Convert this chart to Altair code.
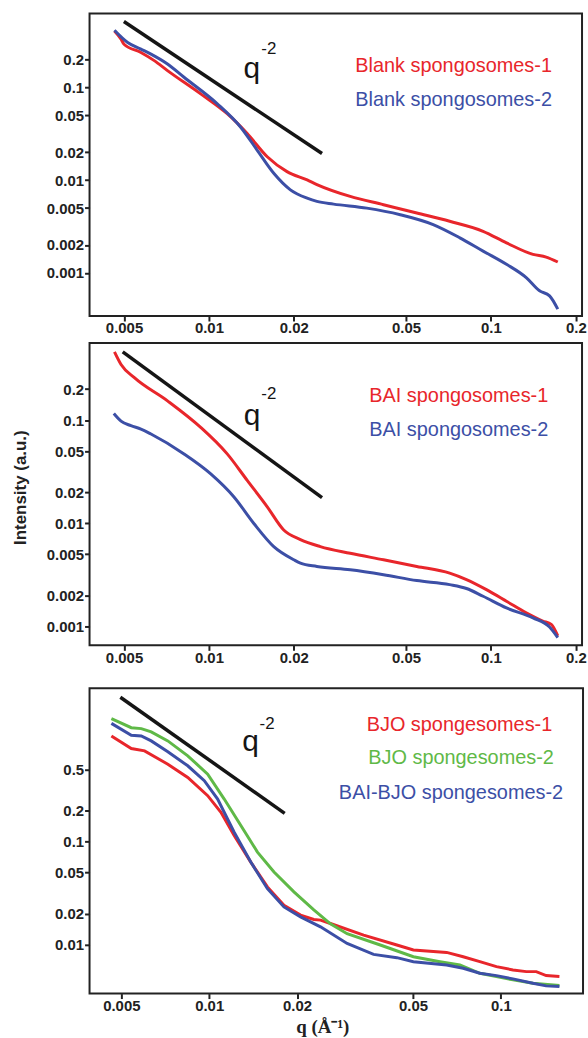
import altair as alt
import pandas as pd

# ---------------- Panel 1 : blank spongosomes ----------------
p1_red_q = [0.004624, 0.00488, 0.005, 0.00574, 0.0064, 0.00713, 0.00935, 0.01161, 0.01367, 0.0161,
            0.01892, 0.0223, 0.02415, 0.0317, 0.0416, 0.0546, 0.0714, 0.0938, 0.1135, 0.141, 0.157, 0.1726]
p1_red_i = [0.4036, 0.3292, 0.290, 0.2366, 0.1932, 0.151, 0.0848, 0.0518, 0.0317, 0.01783,
            0.01233, 0.01004, 0.00895, 0.00667, 0.00543, 0.00442, 0.0036, 0.00281, 0.00211, 0.001585, 0.001483, 0.001312]
p1_blue_q = [0.004624, 0.00515, 0.00574, 0.00623, 0.00713, 0.00816, 0.01071, 0.01294, 0.01482, 0.01698,
             0.01945, 0.0223, 0.02415, 0.02767, 0.0363, 0.0477, 0.0624, 0.0776, 0.0938, 0.1135,
             0.1334, 0.1487, 0.1614, 0.1726]
p1_blue_i = [0.410, 0.303, 0.2572, 0.227, 0.1777, 0.128, 0.0663, 0.0373, 0.02104, 0.01183,
             0.00785, 0.00638, 0.00589, 0.00551, 0.00499, 0.00424, 0.00332, 0.00239, 0.00172, 0.00124,
             0.000891, 0.000642, 0.000567, 0.000408]
p1_ref_q = [0.004994, 0.02518]
p1_ref_i = [0.5093, 0.0193]

# ---------------- Panel 2 : BAI spongosomes ----------------
p2_red_q = [0.004624, 0.004879, 0.00544, 0.00713, 0.00935, 0.01161, 0.01367, 0.0161, 0.01842, 0.02111,
            0.02483, 0.0317, 0.0416, 0.0546, 0.0714, 0.0819, 0.0964, 0.1135, 0.1334, 0.1527, 0.1637, 0.1726]
p2_red_i = [0.4597, 0.3467, 0.2582, 0.1538, 0.0850, 0.0470, 0.0260, 0.01439, 0.00858, 0.00692,
            0.00592, 0.00510, 0.00441, 0.0038, 0.00327, 0.00283, 0.00226, 0.001746, 0.001346, 0.00112, 0.00104, 0.000803]
p2_blue_q = [0.0046, 0.00488, 0.00529, 0.00574, 0.00623, 0.00816, 0.01015, 0.01227, 0.01443, 0.01698,
             0.02, 0.02111, 0.02415, 0.0317, 0.0416, 0.0546, 0.0714, 0.0819, 0.0938, 0.1135,
             0.141, 0.1614, 0.1726]
p2_blue_i = [0.1160, 0.0978, 0.0883, 0.0819, 0.0733, 0.0470, 0.0301, 0.01797, 0.00993, 0.00592,
             0.00441, 0.00409, 0.0038, 0.00353, 0.00316, 0.00277, 0.00253, 0.00232, 0.00195, 0.001504,
             0.001205, 0.00098, 0.000773]
p2_ref_q = [0.004948, 0.02518]
p2_ref_i = [0.4601, 0.01768]

# ---------------- Panel 3 : BJO spongesomes ----------------
p3_red_q = [0.004622, 0.005408, 0.006006, 0.007216, 0.008444, 0.009883, 0.010973, 0.012181, 0.013887, 0.015837,
            0.018042, 0.020572, 0.02284, 0.024076, 0.02604, 0.03384, 0.04399, 0.05012, 0.06516, 0.07425,
            0.08468, 0.09654, 0.11, 0.1222, 0.1322, 0.1429, 0.1587]
p3_red_i = [1.057, 0.797, 0.757, 0.5623, 0.4181, 0.2782, 0.1919, 0.1143, 0.0631, 0.0362,
            0.02407, 0.01928, 0.01748, 0.01725, 0.01599, 0.01235, 0.00989, 0.00885, 0.00839, 0.00762,
            0.00682, 0.0061, 0.00567, 0.00546, 0.00546, 0.004995, 0.00489]
p3_green_q = [0.004622, 0.005408, 0.005852, 0.00633, 0.007216, 0.008444, 0.009883, 0.011262, 0.01284, 0.014639,
              0.01668, 0.019521, 0.02284, 0.02604, 0.029705, 0.03859, 0.05012, 0.06182, 0.07234, 0.08468,
              0.09654, 0.11, 0.1287, 0.1587]
p3_green_i = [1.553, 1.271, 1.244, 1.156, 0.946, 0.678, 0.450, 0.258, 0.1427, 0.0788,
              0.0506, 0.0324, 0.02174, 0.0159, 0.01274, 0.00989, 0.00762, 0.00682, 0.00634, 0.00526,
              0.00489, 0.00454, 0.00421, 0.0040]
p3_blue_q = [0.004622, 0.005408, 0.005852, 0.00633, 0.007216, 0.008444, 0.009623, 0.010691, 0.012181, 0.013887,
             0.015837, 0.018042, 0.020572, 0.024076, 0.029705, 0.0366, 0.04399, 0.05012, 0.06516, 0.07425,
             0.08468, 0.09654, 0.11, 0.1287, 0.1429, 0.1587]
p3_blue_i = [1.399, 1.072, 1.057, 0.946, 0.741, 0.5424, 0.3886, 0.258, 0.123, 0.0631,
             0.03483, 0.02318, 0.01856, 0.01486, 0.01025, 0.00802, 0.00746, 0.00682, 0.00634, 0.00588,
             0.00526, 0.004995, 0.00464, 0.00421, 0.00397, 0.00391]
p3_ref_q = [0.004961, 0.01815]
p3_ref_i = [2.509, 0.1876]

# ---------------- labels / ticks ----------------
x_ticks_12 = [0.005, 0.01, 0.02, 0.05, 0.1, 0.2]
y_ticks_12 = [0.001, 0.002, 0.005, 0.01, 0.02, 0.05, 0.1, 0.2]
x_ticks_3 = [0.005, 0.01, 0.02, 0.05, 0.1]
y_ticks_3 = [0.01, 0.02, 0.05, 0.1, 0.2, 0.5]

series_names = ["Blank spongosomes-1", "Blank spongosomes-2",
                "BAI spongosomes-1", "BAI spongosomes-2",
                "BJO spongesomes-1", "BJO spongesomes-2", "BAI-BJO spongesomes-2"]

RED, BLUE, GREEN, BLACK = "#e8262b", "#3c4fa6", "#5fb947", "#151515"
series_colors = [RED, BLUE, RED, BLUE, RED, GREEN, BLUE]
SANS = "Liberation Sans"
CSCALE = alt.Scale(domain=series_names, range=series_colors)


def panel(curves, ref_q, ref_i, legend, qpos, spos, x_dom, y_dom, x_ticks, y_ticks,
          width, height, interp, y_title=None, x_title=None, x_title_x=0):
    rows = []
    for name, qs, iis in curves:
        for k, (a, b) in enumerate(zip(qs, iis)):
            rows.append({"series": name, "q": a, "I": b, "k": k})
    df = pd.DataFrame(rows)

    xkw = dict(values=x_ticks, format="~g", tickSize=5, tickWidth=2, tickColor="#222",
               labelFont=SANS, labelFontWeight="bold", labelFontSize=15, labelColor="#222",
               labelPadding=0, labelOverlap=False, labelFlush=False, domain=False, grid=False)
    if x_title:
        xkw.update(title=x_title, titleFont="Liberation Serif", titleFontWeight="bold",
                   titleFontSize=19, titleColor="#222", titleX=x_title_x, titleY=39,
                   titleBaseline="alphabetic", titleAlign="center")
    else:
        xkw.update(title=None)
    ykw = dict(values=y_ticks, format="~g", tickSize=5, tickWidth=2, tickColor="#222",
               labelFont=SANS, labelFontWeight="bold", labelFontSize=15, labelColor="#222",
               labelPadding=1, labelOverlap=False, labelFlush=False, domain=False, grid=False)
    if y_title:
        ykw.update(title=y_title, titleFont=SANS, titleFontWeight="bold", titleFontSize=17,
                   titleColor="#222", titleX=-60, titleY=145, titleAngle=270,
                   titleBaseline="bottom", titleAlign="center")
    else:
        ykw.update(title=None)

    X = alt.X("q:Q", scale=alt.Scale(type="log", domain=x_dom, nice=False), axis=alt.Axis(**xkw))
    Y = alt.Y("I:Q", scale=alt.Scale(type="log", domain=y_dom, nice=False), axis=alt.Axis(**ykw))
    C = alt.Color("series:N", scale=CSCALE, legend=None)

    lines = alt.Chart(df).mark_line(strokeWidth=3, interpolate=interp, clip=True).encode(
        x=X, y=Y, color=C, order="k:Q")
    ref = alt.Chart(pd.DataFrame({"q": ref_q, "I": ref_i})).mark_line(
        color=BLACK, strokeWidth=3.5).encode(x=X, y=Y)
    leg_df = pd.DataFrame({"series": [l[0] for l in legend],
                           "q": [l[1] for l in legend], "I": [l[2] for l in legend]})
    leg = alt.Chart(leg_df).mark_text(align="right", baseline="alphabetic", font=SANS,
                                      fontSize=20).encode(x=X, y=Y, text="series:N", color=C)
    qt = alt.Chart(pd.DataFrame({"t": ["q"], "q": [qpos[0]], "I": [qpos[1]]})).mark_text(
        align="left", baseline="alphabetic", font=SANS, fontSize=30, color=BLACK).encode(
        x=X, y=Y, text="t:N")
    st = alt.Chart(pd.DataFrame({"t": ["-2"], "q": [spos[0]], "I": [spos[1]]})).mark_text(
        align="left", baseline="alphabetic", font=SANS, fontSize=17, color=BLACK).encode(
        x=X, y=Y, text="t:N")
    return alt.layer(lines, ref, leg, qt, st).properties(width=width, height=height)


c1 = panel(
    [("Blank spongosomes-1", p1_red_q, p1_red_i),
     ("Blank spongosomes-2", p1_blue_q, p1_blue_i)],
    p1_ref_q, p1_ref_i,
    [("Blank spongosomes-1", 0.1646, 0.1447), ("Blank spongosomes-2", 0.1646, 0.0626)],
    (0.01326, 0.1264), (0.01534, 0.2273),
    [0.003773, 0.2104], [0.0003437, 0.6203], x_ticks_12, y_ticks_12, 495, 304, "monotone")

c2 = panel(
    [("BAI spongosomes-1", p2_red_q, p2_red_i),
     ("BAI spongosomes-2", p2_blue_q, p2_blue_i)],
    p2_ref_q, p2_ref_i,
    [("BAI spongosomes-1", 0.1597, 0.1505), ("BAI spongosomes-2", 0.1597, 0.0707)],
    (0.01328, 0.0899), (0.01534, 0.1594),
    [0.003773, 0.2104], [0.000651, 0.5618], x_ticks_12, y_ticks_12, 495, 304, "monotone",
    y_title="Intensity (a.u.)")

c3 = panel(
    [("BJO spongesomes-1", p3_red_q, p3_red_i),
     ("BJO spongesomes-2", p3_green_q, p3_green_i),
     ("BAI-BJO spongesomes-2", p3_blue_q, p3_blue_i)],
    p3_ref_q, p3_ref_i,
    [("BJO spongesomes-1", 0.150, 1.179), ("BJO spongesomes-2", 0.1519, 0.561),
     ("BAI-BJO spongesomes-2", 0.1634, 0.2578)],
    (0.01299, 0.7557), (0.01488, 1.222),
    [0.00389, 0.1912], [0.003343, 3.074], x_ticks_3, y_ticks_3, 496, 307, "linear",
    x_title="q (Å⁻¹)", x_title_x=234)

chart = alt.vconcat(alt.vconcat(c1, c2, spacing=5), c3, spacing=21).properties(
    padding={"left": 11, "top": 10, "right": 0, "bottom": 0},
    background="white",
).configure_view(stroke="#222", strokeWidth=2)

chart.save("out.html", embed_options={"renderer": "svg", "actions": False})
